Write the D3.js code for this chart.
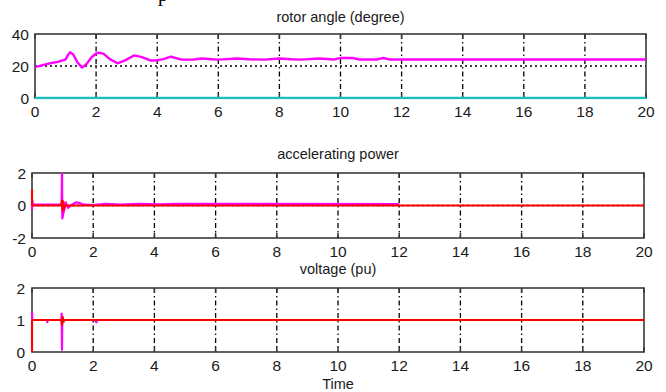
<!DOCTYPE html>
<html>
<head>
<meta charset="utf-8">
<script src="https://cdn.jsdelivr.net/npm/d3@7"></script>
<style>
  body { margin: 0; background: #fff; }
  svg { display: block; font-family: "Liberation Sans", Arial, sans-serif; }
</style>
</head>
<body>
<div id="chart"></div>
<script>
// ---- data ----
const xTicks = [0, 2, 4, 6, 8, 10, 12, 14, 16, 18, 20];

// rotor angle (degree)
const angleTime  = [0, 0.25, 0.5, 0.75, 0.93, 1.0, 1.08, 1.15, 1.25, 1.4, 1.54, 1.7, 1.85, 2.0, 2.09, 2.25, 2.45, 2.7, 2.95, 3.24, 3.5, 3.8, 4.0, 4.2, 4.45, 4.8, 5.2, 5.45, 5.8, 6.0, 6.6, 7.0, 7.5, 8.0, 8.4, 8.7, 9.3, 9.8, 10.0, 10.4, 10.6, 11.2, 11.4, 11.6, 20];
const angleValue = [19.3, 20.5, 21.7, 22.6, 23.7, 24.2, 26.8, 28.6, 27.2, 22.0, 19.0, 21.5, 25.5, 27.8, 28.4, 27.6, 24.3, 21.7, 23.5, 26.6, 25.5, 23.4, 23.6, 24.3, 25.8, 24.0, 24.1, 24.7, 24.2, 24.0, 24.7, 24.2, 24.0, 24.7, 24.2, 24.0, 24.7, 24.1, 25.0, 25.0, 24.1, 24.1, 25.0, 24.1, 24.1];
const refTime = [0, 20];
const refZero = [0, 0];

// accelerating power
const accRedTime   = [0, 0, 0.02, 0.95, 0.98, 1.0, 1.02, 1.05, 1.08, 20];
const accRedValue  = [1.0, 0, 0, 0, 0.3, -0.3, 0.25, -0.2, 0, 0];
const accMagTime   = [0, 0.01, 0.03, 0.97, 0.98, 0.99, 1.02, 1.05, 1.1, 1.18, 1.3, 1.45, 1.55, 1.7, 2.0, 2.4, 2.9, 3.5, 4.2, 4.7, 5.7, 12.0];
const accMagValue  = [-0.3, 0.3, 0.05, 0.05, 2.6, -0.8, -0.5, -0.3, 0.2, -0.15, 0.05, 0.2, 0.15, 0.05, 0.02, 0.1, 0.05, 0.1, 0.07, 0.1, 0.1, 0.08];

// voltage (pu)
const voltRedTime  = [0, 0, 0.02, 0.96, 0.98, 1.0, 1.03, 1.06, 20];
const voltRedValue = [0, 1, 1, 1, 0.85, 1.1, 0.95, 1.0, 1.0];
const voltMagTime  = [0, 0.01, 0.02, 0.48, 0.5, 0.52, 0.96, 0.97, 0.98, 0.99, 1.02, 1.04, 2.05, 2.1, 2.15, 20];
const voltMagValue = [1.25, 1.0, 1.0, 1.0, 0.93, 1.0, 1.0, 1.2, 0.07, 1.05, 1.0, 1.0, 1.0, 0.93, 1.0, 1.0];

// ---- layout ----
const W = 666, H = 392;
const svg = d3.select("#chart").append("svg").attr("width", W).attr("height", H);

const panels = [
  { title: "rotor angle (degree)", titleY: 22, left: 35, right: 646, top: 34, bottom: 98,
    yDomain: [0, 40], yTicks: [0, 20, 40], yLabelX: 29,
    series: [
      { t: angleTime, v: angleValue, color: "#ff00ff", w: 2.4 },
      { t: refTime, v: refZero, color: "#1fbfbf", w: 2.4 }
    ] },
  { title: "accelerating power", titleY: 159, left: 32, right: 644, top: 173, bottom: 238,
    yDomain: [-2, 2], yTicks: [-2, 0, 2], yLabelX: 26,
    series: [
      { t: accMagTime, v: accMagValue, color: "#ff00ff", w: 2.2 },
      { t: accRedTime, v: accRedValue, color: "#ff0000", w: 2.2 }
    ] },
  { title: "voltage (pu)", titleY: 274, left: 32, right: 644, top: 288, bottom: 352,
    yDomain: [0, 2], yTicks: [0, 1, 2], yLabelX: 25,
    series: [
      { t: voltMagTime, v: voltMagValue, color: "#ff00ff", w: 2.2 },
      { t: voltRedTime, v: voltRedValue, color: "#ff0000", w: 2.2 }
    ] }
];

// stray caption descender above the top panel (cut off in the reference too)
svg.append("text").attr("x", 158).attr("y", 1)
  .attr("font-family", "Liberation Serif, serif").attr("font-size", 20).attr("fill", "#000").text("p");

panels.forEach((p, i) => {
  const x = d3.scaleLinear().domain([0, 20]).range([p.left, p.right]);
  const y = d3.scaleLinear().domain(p.yDomain).range([p.bottom, p.top]);
  const g = svg.append("g");

  g.append("defs").append("clipPath").attr("id", "clip" + i)
    .append("rect").attr("x", p.left - 1.5).attr("y", p.top)
    .attr("width", p.right - p.left + 1.5).attr("height", p.bottom - p.top + 1.5);

  // grid
  g.selectAll(".vgrid").data(xTicks.slice(1, -1)).enter().append("line")
    .attr("x1", d => x(d)).attr("x2", d => x(d))
    .attr("y1", p.top).attr("y2", p.bottom)
    .attr("stroke", "#000").attr("stroke-width", 1.3)
    .attr("stroke-dasharray", "5,3,1.5,3");
  g.selectAll(".hgrid").data(p.yTicks.slice(1, -1)).enter().append("line")
    .attr("x1", p.left).attr("x2", p.right)
    .attr("y1", d => y(d)).attr("y2", d => y(d))
    .attr("stroke", "#000").attr("stroke-width", 1.3)
    .attr("stroke-dasharray", "2,3");

  // inward ticks
  const tk = 5;
  xTicks.forEach(d => {
    g.append("line").attr("x1", x(d)).attr("x2", x(d)).attr("y1", p.bottom).attr("y2", p.bottom - tk)
      .attr("stroke", "#333").attr("stroke-width", 1.5);
    g.append("line").attr("x1", x(d)).attr("x2", x(d)).attr("y1", p.top).attr("y2", p.top + tk)
      .attr("stroke", "#333").attr("stroke-width", 1.5);
  });

  // box
  g.append("rect").attr("x", p.left).attr("y", p.top)
    .attr("width", p.right - p.left).attr("height", p.bottom - p.top)
    .attr("fill", "none").attr("stroke", "#3a3a3a").attr("stroke-width", 1.6);

  // series (drawn over the box, as in the reference)
  const line = d3.line().x(d => x(d[0])).y(d => y(d[1]));
  const plot = g.append("g").attr("clip-path", "url(#clip" + i + ")");
  p.series.forEach(s => {
    plot.append("path")
      .datum(s.t.map((t, k) => [t, s.v[k]]))
      .attr("d", line)
      .attr("fill", "none")
      .attr("stroke", s.color)
      .attr("stroke-width", s.w)
      .attr("stroke-linejoin", "round");
  });

  // tick labels
  g.selectAll(".xl").data(xTicks).enter().append("text")
    .attr("x", d => x(d)).attr("y", p.bottom + 19)
    .attr("text-anchor", "middle").attr("font-size", 15.5).attr("fill", "#1a1a1a")
    .text(d => d);
  g.selectAll(".yl").data(p.yTicks).enter().append("text")
    .attr("x", p.yLabelX).attr("y", d => y(d) + 5.5)
    .attr("text-anchor", "end").attr("font-size", 15.5).attr("fill", "#1a1a1a")
    .text(d => d);

  // title
  g.append("text").attr("x", (p.left + p.right) / 2).attr("y", p.titleY)
    .attr("text-anchor", "middle").attr("font-size", 14.5).attr("fill", "#1a1a1a")
    .text(p.title);
});

svg.append("text").attr("x", 338).attr("y", 389)
  .attr("text-anchor", "middle").attr("font-size", 14.5).attr("fill", "#1a1a1a").text("Time");
</script>
</body>
</html>
